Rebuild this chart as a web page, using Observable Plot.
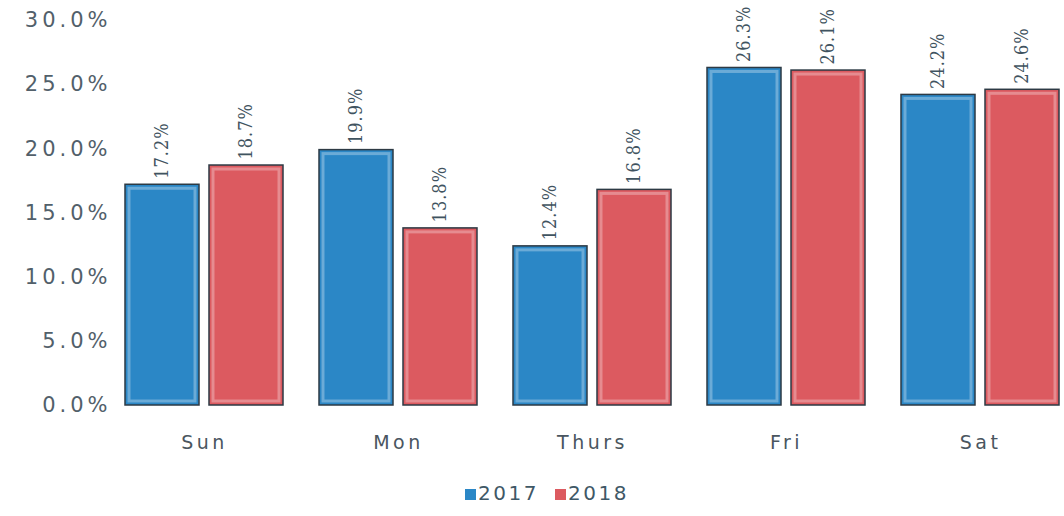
<!DOCTYPE html>
<html>
<head>
<meta charset="utf-8">
<script src="https://cdn.jsdelivr.net/npm/d3@7"></script>
<script src="https://cdn.jsdelivr.net/npm/@observablehq/plot@0.6"></script>
<style>
  html, body { margin: 0; padding: 0; background: #fff; }
  #chart { width: 1064px; }
  #chart g[aria-label="y-axis tick label"] text { letter-spacing: 4px; }
  #chart g[aria-label="fx-axis tick label"] text { letter-spacing: 3.5px; }
  #chart g[aria-label="text"] text { letter-spacing: 1px; }
  .legend { height: 46px; display: flex; justify-content: center; align-items: center; gap: 16px;
    font-family: "DejaVu Sans", sans-serif; font-size: 20px; letter-spacing: 2.5px; color: #3f5866; padding-left: 30px; box-sizing: border-box; }
  .legend span.sw { display: inline-block; width: 11px; height: 11px; margin-right: 2px; vertical-align: middle; }
</style>
</head>
<body>
<div id="chart"></div>
<script>
const days = ["Sun", "Mon", "Thurs", "Fri", "Sat"];
const years = ["2017", "2018"];
const v2017 = [17.2, 19.9, 12.4, 26.3, 24.2];
const v2018 = [18.7, 13.8, 16.8, 26.1, 24.6];
const yTicks = [0, 5, 10, 15, 20, 25, 30];
const colors = ["#2b87c6", "#dc5a60"];

const data = days.flatMap((d, i) => [
  {day: d, year: years[0], value: v2017[i]},
  {day: d, year: years[1], value: v2018[i]}
]);

const chart = Plot.plot({
  width: 1064,
  height: 470,
  marginLeft: 124,
  marginRight: 5,
  marginTop: 20,
  marginBottom: 65,
  style: {fontFamily: "DejaVu Sans, sans-serif", color: "#4d5c66", background: "#fff", overflow: "visible"},
  fx: {domain: days, paddingInner: 0.187, paddingOuter: 0, label: null},
  x: {domain: years, axis: null, paddingInner: 0.12, paddingOuter: 0},
  y: {domain: [0, 30], label: null},
  color: {domain: years, range: colors},
  marks: [
    Plot.axisY({ticks: yTicks, tickFormat: d => d.toFixed(1) + "%", tickSize: 0, tickPadding: 14, label: null,
      fontSize: 21, fill: "#52606a"}),
    Plot.axisFx({anchor: "bottom", tickSize: 0, tickPadding: 30, label: null, fontSize: 19, fill: "#4a5660"}),
    Plot.barY(data, {fx: "day", x: "year", y: "value", fill: "year", stroke: "#2d3a44", strokeWidth: 1.5}),
    Plot.barY(data, {fx: "day", x: "year", y: "value", fill: "none", stroke: "#ffffff", strokeOpacity: 0.3, strokeWidth: 3, inset: 4}),
    Plot.text(data, {fx: "day", x: "year", y: "value", text: d => d.value.toFixed(1) + "%",
      rotate: -90, textAnchor: "start", dy: -6, fontSize: 18, fill: "#3f5360",
      fontFamily: "DejaVu Serif Condensed, DejaVu Serif, serif"})
  ]
});
document.getElementById("chart").appendChild(chart);

const legend = document.createElement("div");
legend.className = "legend";
years.forEach((y, i) => {
  const item = document.createElement("div");
  const sw = document.createElement("span");
  sw.className = "sw";
  sw.style.background = colors[i];
  item.appendChild(sw);
  item.appendChild(document.createTextNode(y));
  legend.appendChild(item);
});
document.getElementById("chart").appendChild(legend);
</script>
</body>
</html>
